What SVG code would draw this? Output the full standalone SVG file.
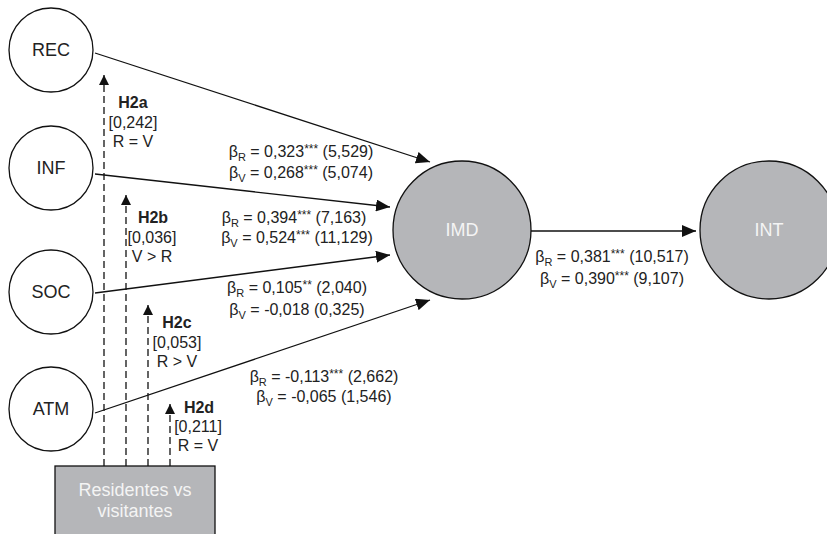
<svg xmlns="http://www.w3.org/2000/svg" width="827" height="534" viewBox="0 0 827 534">
<defs>
<marker id="ah" viewBox="0 0 14 12" refX="14" refY="6" markerWidth="14" markerHeight="12" markerUnits="userSpaceOnUse" orient="auto">
<path d="M0,0 L14,6 L0,12 Z" fill="#111"/>
</marker>
<marker id="ahs" viewBox="0 0 10 10" refX="10" refY="5" markerWidth="10" markerHeight="10" markerUnits="userSpaceOnUse" orient="auto">
<path d="M0,0 L10,5 L0,10 Z" fill="#111"/>
</marker>
</defs>
<style>
.w{fill:#fff;stroke:#111;stroke-width:1.3}
.g{fill:#b5b6b9;stroke:#111;stroke-width:1.3}
.lbl{font-family:"Liberation Sans",Arial,sans-serif;font-size:18px;text-anchor:middle;fill:#222}
.lblw{font-family:"Liberation Sans",Arial,sans-serif;font-size:18px;text-anchor:middle;fill:#f4f4f4}
.c{stroke:#111;stroke-width:1.3;fill:none;marker-end:url(#ah)}
.d{stroke:#111;stroke-width:1.3;fill:none;stroke-dasharray:7 4;marker-end:url(#ahs)}
.t{font-family:"Liberation Sans",Arial,sans-serif;font-size:16px;text-anchor:middle;fill:#222}
.b{font-weight:bold}
.s{font-size:11px}
.a{font-size:12px}
</style>
<g id="connectors">
<line class="c" x1="95" y1="53" x2="430" y2="162"/>
<line class="c" x1="95" y1="174" x2="390" y2="207"/>
<line class="c" x1="95" y1="293" x2="390" y2="255"/>
<line class="c" x1="95" y1="413" x2="430" y2="300"/>
<line class="c" x1="531" y1="231" x2="696" y2="231"/>
<line class="d" x1="104" y1="466" x2="104" y2="75"/>
<line class="d" x1="126" y1="466" x2="126" y2="195"/>
<line class="d" x1="148" y1="466" x2="148" y2="305"/>
<line class="d" x1="170" y1="466" x2="170" y2="404"/>
</g>
<g id="REC"><circle class="w" cx="51" cy="50" r="42"/><text class="lbl" x="51" y="56">REC</text></g>
<g id="INF"><circle class="w" cx="51" cy="168" r="42"/><text class="lbl" x="51" y="174">INF</text></g>
<g id="SOC"><circle class="w" cx="51" cy="292" r="42"/><text class="lbl" x="51" y="298">SOC</text></g>
<g id="ATM"><circle class="w" cx="51" cy="409" r="42"/><text class="lbl" x="51" y="415">ATM</text></g>
<g id="IMD"><circle class="g" cx="462" cy="230" r="69"/><text class="lblw" x="462" y="236">IMD</text></g>
<g id="INT"><circle class="g" cx="769" cy="230" r="69"/><text class="lblw" x="769" y="236">INT</text></g>
<g id="RV"><rect class="g" x="55" y="466" width="160" height="80"/><text class="lblw" x="135" y="496">Residentes vs</text><text class="lblw" x="135" y="517">visitantes</text></g>
<g id="labels">
<text class="t b" x="133" y="108">H2a</text>
<text class="t" x="133" y="128">[0,242]</text>
<text class="t" x="133" y="147">R = V</text>
<text class="t b" x="153" y="223">H2b</text>
<text class="t" x="152" y="243">[0,036]</text>
<text class="t" x="152" y="262">V &gt; R</text>
<text class="t b" x="177" y="328">H2c</text>
<text class="t" x="177" y="348">[0,053]</text>
<text class="t" x="177" y="367">R &gt; V</text>
<text class="t b" x="199" y="413">H2d</text>
<text class="t" x="198" y="432">[0,211]</text>
<text class="t" x="198" y="451">R = V</text>
<text class="t" x="301" y="157">β<tspan class="s" dy="4">R</tspan><tspan dy="-4"> = 0,323</tspan><tspan class="a" dy="-4">***</tspan><tspan dy="4"> (5,529)</tspan></text>
<text class="t" x="301" y="178">β<tspan class="s" dy="4">V</tspan><tspan dy="-4"> = 0,268</tspan><tspan class="a" dy="-4">***</tspan><tspan dy="4"> (5,074)</tspan></text>
<text class="t" x="294" y="223">β<tspan class="s" dy="4">R</tspan><tspan dy="-4"> = 0,394</tspan><tspan class="a" dy="-4">***</tspan><tspan dy="4"> (7,163)</tspan></text>
<text class="t" x="297" y="243">β<tspan class="s" dy="4">V</tspan><tspan dy="-4"> = 0,524</tspan><tspan class="a" dy="-4">***</tspan><tspan dy="4"> (11,129)</tspan></text>
<text class="t" x="297" y="293">β<tspan class="s" dy="4">R</tspan><tspan dy="-4"> = 0,105</tspan><tspan class="a" dy="-4">**</tspan><tspan dy="4"> (2,040)</tspan></text>
<text class="t" x="297" y="315">β<tspan class="s" dy="4">V</tspan><tspan dy="-4"> = -0,018 (0,325)</tspan></text>
<text class="t" x="324" y="382">β<tspan class="s" dy="4">R</tspan><tspan dy="-4"> = -0,113</tspan><tspan class="a" dy="-4">***</tspan><tspan dy="4"> (2,662)</tspan></text>
<text class="t" x="324" y="402">β<tspan class="s" dy="4">V</tspan><tspan dy="-4"> = -0,065 (1,546)</tspan></text>
<text class="t" x="612" y="262">β<tspan class="s" dy="4">R</tspan><tspan dy="-4"> = 0,381</tspan><tspan class="a" dy="-4">***</tspan><tspan dy="4"> (10,517)</tspan></text>
<text class="t" x="612" y="284">β<tspan class="s" dy="4">V</tspan><tspan dy="-4"> = 0,390</tspan><tspan class="a" dy="-4">***</tspan><tspan dy="4"> (9,107)</tspan></text>
</g>
</svg>
